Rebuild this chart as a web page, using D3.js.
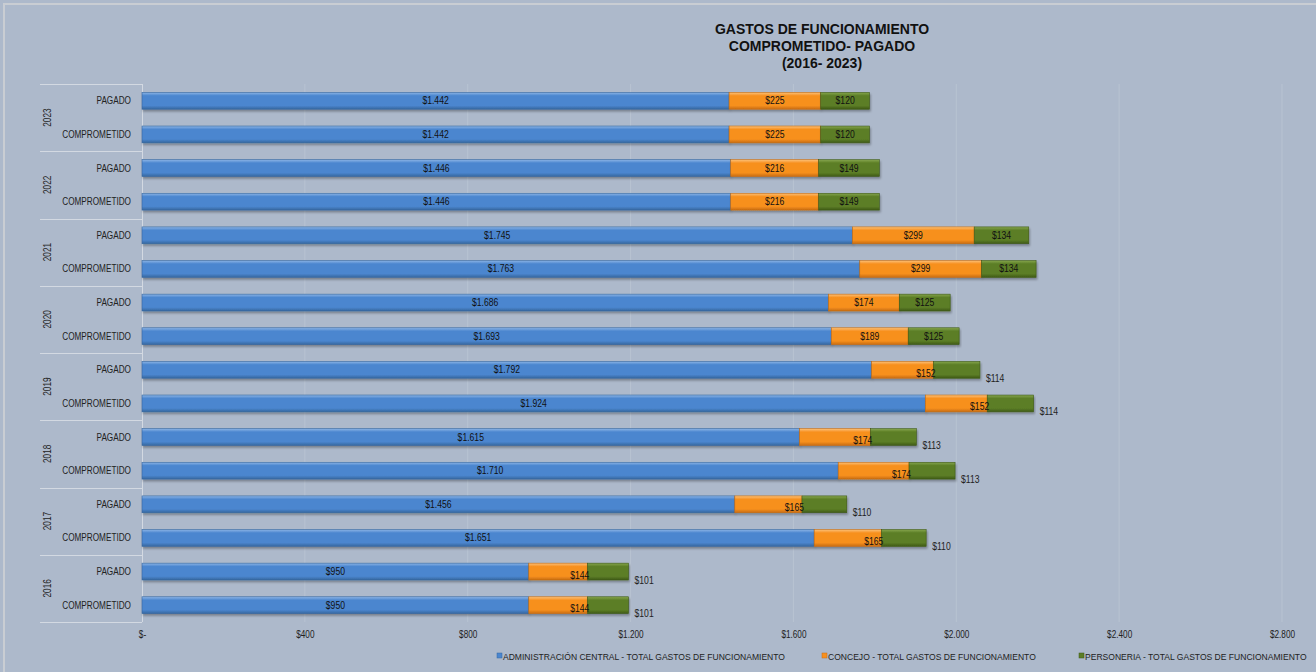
<!DOCTYPE html>
<html><head><meta charset="utf-8">
<script src="https://cdn.jsdelivr.net/npm/d3@7"></script>
<style>
html,body{margin:0;padding:0;background:#adb9cb;}
svg{display:block;}
</style></head>
<body>
<script>
const years = ["2023","2022","2021","2020","2019","2018","2017","2016"];
const stages = ["PAGADO","COMPROMETIDO"];
const seriesNames = ["ADMINISTRACIÓN CENTRAL - TOTAL GASTOS DE FUNCIONAMIENTO","CONCEJO - TOTAL GASTOS DE FUNCIONAMIENTO","PERSONERIA - TOTAL GASTOS DE FUNCIONAMIENTO"];
// rows top to bottom: year x stage
const adminValues   = [1442,1442, 1446,1446, 1745,1763, 1686,1693, 1792,1924, 1615,1710, 1456,1651, 950,950];
const concejoValues = [225,225, 216,216, 299,299, 174,189, 152,152, 174,174, 165,165, 144,144];
const personValues  = [120,120, 149,149, 134,134, 125,125, 114,114, 113,113, 110,110, 101,101];
const tickValues = [0,400,800,1200,1600,2000,2400,2800];
const titleLines = ["GASTOS DE FUNCIONAMIENTO","COMPROMETIDO- PAGADO","(2016- 2023)"];

const W=1316,H=672;
const colors=["#4b86cf","#f7901f","#5c7e26"];
const darks=["#36679f","#c86c10","#3f5a16"];
const lights=["#8db5e6","#fcc27a","#86a64e"];

const fmt = v => v===0 ? "$-" : "$"+d3.format(",")(v).replace(/,/g,".");
function narrow(sel, factor){
  const fac = factor || 0.82;
  sel.each(function(){
    const w=this.getComputedTextLength();
    d3.select(this).attr("textLength",w*fac).attr("lengthAdjust","spacingAndGlyphs");
  });
}

const svg=d3.select("body").append("svg").attr("width",W).attr("height",H);
const defs=svg.append("defs");
colors.forEach((c,i)=>{
  const g=defs.append("linearGradient").attr("id","g"+i).attr("x1",0).attr("y1",0).attr("x2",0).attr("y2",1);
  g.append("stop").attr("offset","0%").attr("stop-color",lights[i]);
  g.append("stop").attr("offset","20%").attr("stop-color",c);
  g.append("stop").attr("offset","78%").attr("stop-color",c);
  g.append("stop").attr("offset","100%").attr("stop-color",darks[i]);
});
const f=defs.append("filter").attr("id","sh").attr("x","-5%").attr("y","-30%").attr("width","110%").attr("height","180%");
f.append("feDropShadow").attr("dx",1).attr("dy",2).attr("stdDeviation",1).attr("flood-color","#000").attr("flood-opacity",0.3);

svg.append("rect").attr("width",W).attr("height",H).attr("fill","#adb9cb");
svg.append("path").attr("d",`M4,${H} L4,4 L${W},4`).attr("fill","none").attr("stroke","#c9cdd3").attr("stroke-width",2);

const x=d3.scaleLinear().domain([0,2800]).range([142,1282]);
const rows=[];
years.forEach(y=>stages.forEach(s=>rows.push(y+"|"+s)));
const yb=d3.scaleBand().domain(rows).range([84,622]).paddingInner(0.5).paddingOuter(0.25);
const step=yb.step();

svg.append("g").selectAll("line").data(tickValues.slice(1)).join("line")
  .attr("x1",d=>x(d)).attr("x2",d=>x(d)).attr("y1",84).attr("y2",622)
  .attr("stroke","#b8c3d2").attr("stroke-width",1);

const lineCol="#d3d9e2";
svg.append("line").attr("x1",142.5).attr("x2",142.5).attr("y1",84).attr("y2",622).attr("stroke",lineCol);
const groupY=d3.range(years.length+1).map(i=>84+i*2*step);
svg.append("g").selectAll("line").data(groupY).join("line")
  .attr("x1",40).attr("x2",142).attr("y1",d=>Math.round(d)+0.5).attr("y2",d=>Math.round(d)+0.5)
  .attr("stroke",lineCol);

const font="'Liberation Sans',Arial,sans-serif";
svg.append("g").selectAll("text").data(rows).join("text")
  .attr("x",131).attr("y",d=>yb(d)+yb.bandwidth()/2+3.5)
  .attr("text-anchor","end").attr("font-family",font).attr("font-size",10).attr("fill","#222")
  .text(d=>d.split("|")[1]).call(narrow);
svg.append("g").selectAll("text").data(years).join("text")
  .attr("transform",(d,i)=>`translate(51,${84+(i*2+1)*step}) rotate(-90)`)
  .attr("text-anchor","middle").attr("font-family",font).attr("font-size",10).attr("fill","#222")
  .text(d=>d).call(narrow);

const ax=svg.append("g").attr("transform","translate(0,622)")
  .call(d3.axisBottom(x).tickValues(tickValues).tickFormat(fmt).tickSize(0).tickPadding(9));
ax.select(".domain").remove();
ax.selectAll("text").attr("font-family",font).attr("font-size",10).attr("fill","#222").call(narrow);

const data=rows.map((r,i)=>({row:r,year:+r.split("|")[0],vals:[adminValues[i],concejoValues[i],personValues[i]]}));
data.forEach(d=>{
  let acc=0;
  d.vals.forEach((v,k)=>{ d["s"+k]=acc; acc+=v; d["e"+k]=acc; });
});
const bars=svg.append("g");
[0,1,2].forEach(k=>{
  bars.append("g").selectAll("rect").data(data).join("rect")
    .attr("x",d=>x(d["s"+k])).attr("width",d=>x(d["e"+k])-x(d["s"+k]))
    .attr("y",d=>yb(d.row)).attr("height",yb.bandwidth())
    .attr("fill",`url(#g${k})`).attr("stroke",darks[k]).attr("stroke-width",0.6)
    .attr("filter","url(#sh)");
});

const lab=svg.append("g").attr("font-family",font).attr("font-size",10.5).attr("fill","#111");
data.forEach(d=>{
  const cy=yb(d.row)+yb.bandwidth()/2;
  const inside = d.year>=2020;
  lab.append("text").attr("x",(x(d.s0)+x(d.e0))/2).attr("y",cy+3.5).attr("text-anchor","middle").text(fmt(d.vals[0]));
  if(inside){
    lab.append("text").attr("x",(x(d.s1)+x(d.e1))/2).attr("y",cy+3.5).attr("text-anchor","middle").text(fmt(d.vals[1]));
    lab.append("text").attr("x",(x(d.s2)+x(d.e2))/2).attr("y",cy+3.5).attr("text-anchor","middle").text(fmt(d.vals[2]));
  } else {
    lab.append("text").attr("x",x(d.e1)+2).attr("y",cy+7).attr("text-anchor","end").text(fmt(d.vals[1]));
    lab.append("text").attr("x",x(d.e2)+6).attr("y",cy+12).attr("text-anchor","start").attr("fill","#222").text(fmt(d.vals[2]));
  }
});
lab.selectAll("text").call(narrow);

svg.append("g").selectAll("text").data(titleLines).join("text")
  .attr("x",822).attr("y",(d,i)=>34+i*16.8).attr("text-anchor","middle")
  .attr("font-family",font).attr("font-weight","bold").attr("font-size",14).attr("fill","#111")
  .text(d=>d);

const legX=[497,822,1079];
const leg=svg.append("g");
seriesNames.forEach((n,i)=>{
  const g=leg.append("g").attr("transform",`translate(${legX[i]},660)`);
  g.append("rect").attr("x",0).attr("y",-7).attr("width",5).attr("height",5).attr("fill",colors[i]).attr("stroke",darks[i]).attr("stroke-width",0.5);
  g.append("text").attr("x",6).attr("y",0).attr("font-family",font).attr("font-size",9.2).attr("fill","#222").text(n).call(narrow, 0.93);
});
</script>
</body></html>
